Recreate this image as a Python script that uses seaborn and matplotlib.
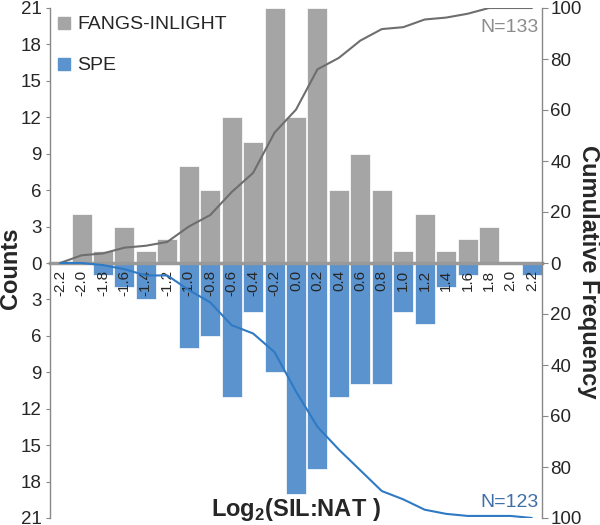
import numpy as np
import matplotlib
matplotlib.use("Agg")
import matplotlib.pyplot as plt
import seaborn as sns
from matplotlib.lines import Line2D
from matplotlib.ticker import FuncFormatter

# Bins of Log2(SIL:NAT)
bin_labels = ["-2.2", "-2.0", "-1.8", "-1.6", "-1.4", "-1.2", "-1.0", "-0.8",
              "-0.6", "-0.4", "-0.2", "0.0", "0.2", "0.4", "0.6", "0.8",
              "1.0", "1.2", "1.4", "1.6", "1.8", "2.0", "2.2"]

# Counts per bin
fangs_counts = [0, 4, 1, 3, 1, 2, 8, 6, 12, 10, 21, 12, 21, 6, 9, 6,
                1, 4, 1, 2, 3, 0, 0]
spe_counts = [0, 0, 1, 2, 3, 0, 7, 6, 11, 4, 9, 19, 17, 11, 10, 10,
              4, 5, 2, 1, 0, 0, 1]

gray = "#A5A5A5"
blue = "#5B93CF"
gray_line = "#6E6E6E"
blue_line = "#2F7AC4"

sns.set_style("white")
plt.rcParams["font.family"] = ["Liberation Sans", "DejaVu Sans"]
plt.rcParams["mathtext.fontset"] = "custom"
plt.rcParams["mathtext.rm"] = "Liberation Sans:bold"
plt.rcParams["mathtext.bf"] = "Liberation Sans:bold"

pos = np.arange(len(bin_labels))
fangs = np.array(fangs_counts)
spe = np.array(spe_counts)

# cumulative frequency (%)
cum_fangs = np.cumsum(fangs) / fangs.sum() * 100
cum_spe = np.cumsum(spe) / spe.sum() * 100

fig = plt.figure(figsize=(6, 5.25), dpi=100)
ax = fig.add_axes([50 / 600, 1 - 518 / 525, 492 / 600, 510 / 525])

sns.barplot(x=pos, y=fangs, color=gray, width=0.93, saturation=1,
            edgecolor="white", linewidth=0.5, ax=ax)
sns.barplot(x=pos, y=-spe, color=blue, width=0.93, saturation=1,
            edgecolor="white", linewidth=0.5, ax=ax)
ax.set_axisbelow(False)

ax.set_xlim(-0.47, 22.47)
ax.set_ylim(-21, 21)
ax.set_yticks(np.arange(-21, 22, 3))
ax.yaxis.set_major_formatter(FuncFormatter(lambda v, p: f"{abs(int(round(v)))}"))
ax.tick_params(axis="y", labelsize=13.5, length=3, color="#888888", pad=3, left=True)
ax.set_xticks(pos, labels=bin_labels)
ax.tick_params(axis="x", labelsize=11, rotation=90, length=0, pad=5)

for s in ["top", "right"]:
    ax.spines[s].set_visible(False)
ax.spines["left"].set_color("#888888")
ax.spines["left"].set_linewidth(1)
ax.spines["bottom"].set_position(("data", 0))
ax.spines["bottom"].set_color("#999999")
ax.spines["bottom"].set_linewidth(2.5)
ax.set_xlabel("")
ax.set_ylabel("")

ax.text(-0.081, 0.49, "Counts", transform=ax.transAxes, rotation=90,
        ha="center", va="center", fontsize=17, fontweight="bold")
ax.text(0.5, 0.016, r"Log$_{2}$(SIL:NAT )", transform=ax.transAxes,
        ha="center", va="center", fontsize=17, fontweight="bold")

# cumulative lines on right axis
ax2 = ax.twinx()
sns.lineplot(x=pos, y=cum_fangs, color=gray_line, lw=1.5, ax=ax2)
sns.lineplot(x=pos, y=-cum_spe, color=blue_line, lw=1.5, ax=ax2)
ax2.set_ylim(-100, 100)
ax2.set_xlim(-0.47, 22.47)
ax2.set_yticks(np.arange(-100, 101, 20))
ax2.yaxis.set_major_formatter(FuncFormatter(lambda v, p: f"{abs(int(round(v)))}"))
ax2.tick_params(axis="y", labelsize=13.5, length=4, color="#888888", pad=2, right=True)
for s in ["top", "left", "bottom"]:
    ax2.spines[s].set_visible(False)
ax2.spines["right"].set_color("#888888")
ax2.spines["right"].set_linewidth(1)
ax2.set_ylabel("")
ax2.text(1.095, 0.482, "Cumulative Frequency", transform=ax2.transAxes,
         rotation=270, ha="center", va="center", fontsize=17,
         fontweight="bold")

ax2.text(0.994, 0.962, "N=133", transform=ax2.transAxes, ha="right",
         va="center", fontsize=14, color="#8C8C8C")
ax2.text(0.994, 0.031, "N=123", transform=ax2.transAxes, ha="right",
         va="center", fontsize=14, color="#3F6FA8")

handles = [
    Line2D([], [], marker="s", ls="", color=gray, markersize=8),
    Line2D([], [], marker="s", ls="", color=blue, markersize=8),
]
ax2.legend(handles, ["FANGS-INLIGHT", "SPE"], loc="upper left",
           bbox_to_anchor=(0.0, 1.0), frameon=False, fontsize=14,
           handlelength=0.6, handletextpad=0.4, labelspacing=1.2,
           borderaxespad=0.1, borderpad=0.3)

fig.savefig("out.png", dpi=100)
